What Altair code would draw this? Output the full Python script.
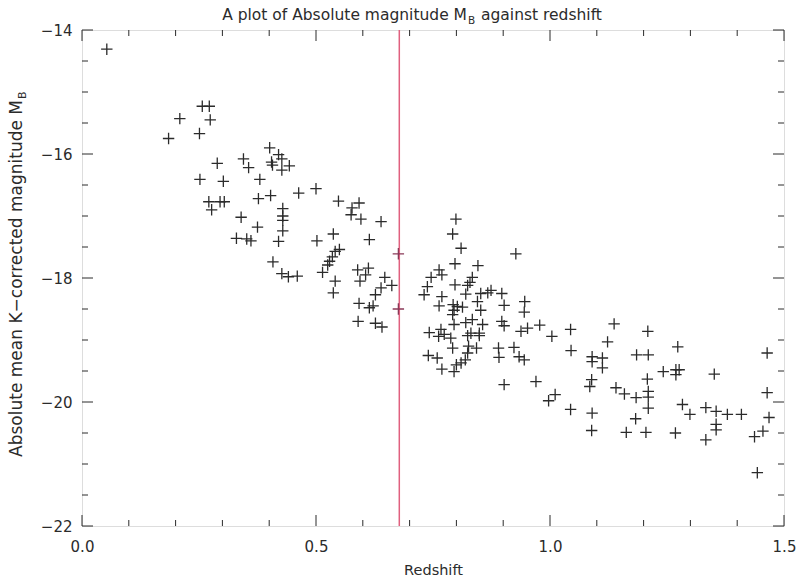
import altair as alt
import pandas as pd

# ---- data ----
redshift = [
    0.053, 0.257, 0.272, 0.209, 0.274, 0.251, 0.185, 0.401, 0.420, 0.427,
    0.405, 0.407, 0.443, 0.427, 0.345, 0.356, 0.289, 0.252, 0.302, 0.380,
    0.500, 0.463, 0.403, 0.377, 0.271, 0.295, 0.304, 0.277, 0.429, 0.429,
    0.429, 0.429, 0.340, 0.375, 0.330, 0.352, 0.361, 0.420, 0.502, 0.408,
    0.427, 0.441, 0.460, 0.514, 0.548, 0.577, 0.592, 0.575, 0.596, 0.639,
    0.537, 0.614, 0.550, 0.541, 0.535, 0.529, 0.525, 0.541, 0.537, 0.589,
    0.612, 0.606, 0.594, 0.647, 0.662, 0.639, 0.627, 0.592, 0.614, 0.622,
    0.590, 0.627, 0.641, 0.676, 0.676,
    0.799, 0.792, 0.810, 0.797, 0.846, 0.763, 0.769, 0.746, 0.834, 0.829,
    0.824, 0.797, 0.738, 0.731, 0.769, 0.820, 0.852, 0.867, 0.874, 0.845,
    0.763, 0.793, 0.802, 0.813, 0.795, 0.852, 0.792, 0.834, 0.820, 0.795,
    0.856, 0.742, 0.767, 0.774, 0.831, 0.849, 0.762,
    0.927, 0.897, 0.902, 0.946, 0.945, 0.897, 0.902, 0.938, 0.952, 0.978,
    1.044, 1.004, 1.137,
    0.788, 0.824, 0.849, 0.792, 0.826, 0.843, 0.824, 0.819, 0.810, 0.800,
    0.740, 0.759, 0.769, 0.795, 0.890, 0.891, 0.923, 0.934, 0.945, 1.045,
    1.090, 1.090, 1.089, 1.085, 0.902, 0.970, 1.011, 0.997, 1.044, 1.090,
    1.089,
    1.209, 1.123, 1.112, 1.112, 1.185, 1.210, 1.273, 1.242, 1.269, 1.276,
    1.269, 1.351, 1.464, 1.208, 1.141, 1.159, 1.184, 1.210, 1.210, 1.210,
    1.283, 1.299, 1.333, 1.355, 1.379, 1.409, 1.464, 1.468, 1.183, 1.355,
    1.355, 1.163, 1.205, 1.268, 1.333, 1.455, 1.437, 1.443,
]
abs_mag = [
    -14.31, -15.23, -15.23, -15.43, -15.45, -15.67, -15.75, -15.90, -16.01, -16.08,
    -16.13, -16.18, -16.19, -16.26, -16.08, -16.22, -16.15, -16.41, -16.44, -16.41,
    -16.56, -16.63, -16.67, -16.72, -16.77, -16.77, -16.77, -16.90, -16.88, -17.00,
    -17.07, -17.24, -17.02, -17.18, -17.36, -17.37, -17.40, -17.41, -17.40, -17.74,
    -17.93, -17.98, -17.97, -17.91, -16.76, -16.87, -16.79, -16.98, -17.05, -17.09,
    -17.29, -17.38, -17.54, -17.57, -17.66, -17.73, -17.79, -18.05, -18.24, -17.87,
    -17.84, -17.95, -18.05, -17.99, -18.12, -18.16, -18.27, -18.41, -18.48, -18.45,
    -18.70, -18.73, -18.79, -17.61, -18.50,
    -17.05, -17.29, -17.52, -17.77, -17.80, -17.87, -17.95, -17.99, -17.99, -18.07,
    -18.12, -18.11, -18.14, -18.27, -18.30, -18.26, -18.25, -18.24, -18.20, -18.38,
    -18.45, -18.43, -18.46, -18.47, -18.52, -18.52, -18.59, -18.67, -18.72, -18.75,
    -18.75, -18.88, -18.83, -18.91, -18.89, -18.89, -18.94,
    -17.61, -18.25, -18.44, -18.38, -18.55, -18.70, -18.77, -18.86, -18.81, -18.76,
    -18.83, -18.94, -18.74,
    -18.97, -18.93, -18.93, -19.13, -19.10, -19.13, -19.21, -19.32, -19.37, -19.40,
    -19.25, -19.29, -19.47, -19.51, -19.13, -19.28, -19.12, -19.27, -19.32, -19.17,
    -19.27, -19.35, -19.64, -19.75, -19.72, -19.67, -19.88, -19.98, -20.12, -20.18,
    -20.46,
    -18.86, -19.03, -19.29, -19.45, -19.24, -19.24, -19.11, -19.51, -19.48, -19.48,
    -19.56, -19.55, -19.21, -19.63, -19.77, -19.87, -19.93, -19.83, -19.92, -20.10,
    -20.04, -20.20, -20.09, -20.15, -20.20, -20.20, -19.85, -20.25, -20.27, -20.36,
    -20.45, -20.49, -20.49, -20.50, -20.61, -20.47, -20.56, -21.14,
]
cut_redshift = 0.678

x_major = [0.0, 0.5, 1.0, 1.5]
x_minor = [0.1, 0.2, 0.3, 0.4, 0.6, 0.7, 0.8, 0.9, 1.1, 1.2, 1.3, 1.4]
y_major = [-22, -20, -18, -16, -14]
y_minor = [-21.5, -21, -20.5, -19.5, -19, -18.5, -17.5, -17, -16.5, -15.5, -15, -14.5]

# ---- layout ----
W, H = 702, 496
INK = "#2b2b2b"
FONT = "DejaVu Sans"
MAJ, MIN = 11, 6

df = pd.DataFrame({"z": redshift, "M": abs_mag})
df["on_line"] = (df["z"] - cut_redshift).abs() < 0.01

xs = alt.Scale(domain=[0, 1.5], nice=False, zero=False, padding=0)
ys = alt.Scale(domain=[-22, -14], nice=False, zero=False, padding=0)

xaxis = alt.Axis(values=x_major, format=".1f", ticks=False, domain=False, grid=False,
                 labelFlush=False,
                 labelFontSize=15, labelColor=INK, labelFont=FONT, labelPadding=13,
                 title="Redshift", titleFont=FONT, titleFontSize=14.5,
                 titleFontWeight="normal", titleColor=INK, titlePadding=9)
yaxis = alt.Axis(values=y_major, format="d", ticks=False, domain=False, grid=False,
                 labelFlush=False,
                 labelFontSize=15, labelColor=INK, labelFont=FONT, labelPadding=10,
                 title=None)

cross = "M-1,0H1M0,-1V1"
points = alt.Chart(df).mark_point(shape=cross, size=130, filled=False, strokeWidth=1.3,
                                  opacity=1).encode(
    x=alt.X("z:Q", scale=xs, axis=xaxis),
    y=alt.Y("M:Q", scale=ys, axis=yaxis),
    color=alt.condition("datum.on_line", alt.value("#8a3a58"), alt.value(INK)),
)

vline = alt.Chart(pd.DataFrame({"z": [cut_redshift]})).mark_rule(
    color="#e0607f", strokeWidth=1.5
).encode(x=alt.X("z:Q", scale=xs), y=alt.value(0), y2=alt.value(H))

def xticks(vals, length):
    d = pd.DataFrame({"z": vals})
    bot = alt.Chart(d).mark_rule(color=INK, strokeWidth=1).encode(
        x=alt.X("z:Q", scale=xs), y=alt.value(H), y2=alt.value(H - length))
    top = alt.Chart(d).mark_rule(color=INK, strokeWidth=1).encode(
        x=alt.X("z:Q", scale=xs), y=alt.value(0), y2=alt.value(length))
    return [bot, top]

def yticks(vals, length):
    d = pd.DataFrame({"M": vals})
    left = alt.Chart(d).mark_rule(color=INK, strokeWidth=1).encode(
        y=alt.Y("M:Q", scale=ys), x=alt.value(0), x2=alt.value(length))
    right = alt.Chart(d).mark_rule(color=INK, strokeWidth=1).encode(
        y=alt.Y("M:Q", scale=ys), x=alt.value(W), x2=alt.value(W - length))
    return [left, right]

one = pd.DataFrame({"a": [0]})
TX = 385  # end of "M" in title (plot coordinates)
t1 = alt.Chart(one).mark_text(text="A plot of Absolute magnitude M", align="right",
                              baseline="alphabetic", font=FONT, fontSize=15.5, color=INK
                              ).encode(x=alt.value(TX), y=alt.value(-10))
t2 = alt.Chart(one).mark_text(text="B", align="left", baseline="alphabetic", font=FONT,
                              fontSize=10.5, color=INK).encode(x=alt.value(TX + 1), y=alt.value(-6))
t3 = alt.Chart(one).mark_text(text="against redshift", align="left", baseline="alphabetic",
                              font=FONT, fontSize=15.5, color=INK).encode(x=alt.value(TX + 14), y=alt.value(-10))

YX, YY = -60, 70
y1 = alt.Chart(one).mark_text(text="Absolute mean K−corrected magnitude M", angle=270,
                              align="right", baseline="alphabetic", font=FONT, fontSize=17,
                              color=INK).encode(x=alt.value(YX), y=alt.value(YY))
y2 = alt.Chart(one).mark_text(text="B", angle=270, align="left", baseline="alphabetic",
                              font=FONT, fontSize=11, color=INK, dx=1, dy=4
                              ).encode(x=alt.value(YX), y=alt.value(YY))

layers = [vline] + xticks(x_major, MAJ) + xticks(x_minor, MIN) + yticks(y_major, MAJ) \
    + yticks(y_minor, MIN) + [points, t1, t2, t3, y1, y2]

chart = alt.layer(*layers).properties(
    width=W, height=H,
    autosize=alt.AutoSizeParams(type="none"),
    padding={"left": 82, "top": 30, "right": 12, "bottom": 52},
).configure_view(stroke=INK, strokeWidth=1.3).configure(background="white")

chart.save("out.html", embed_options={"renderer": "svg", "actions": False})
